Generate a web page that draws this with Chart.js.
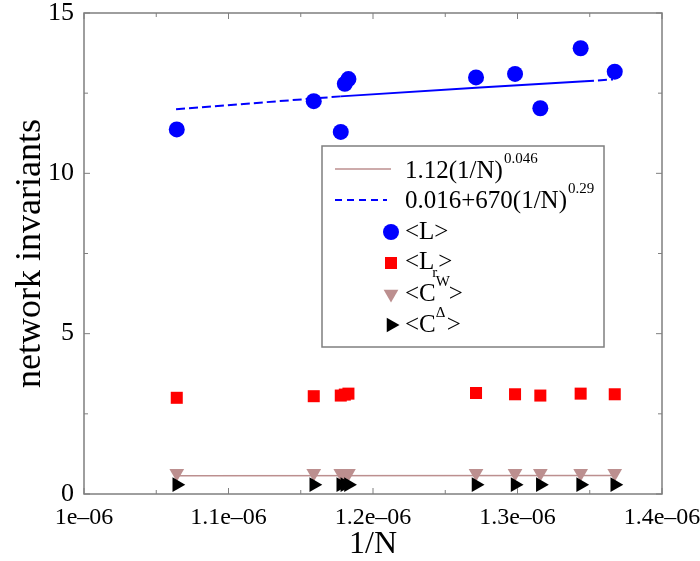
<!DOCTYPE html>
<html>
<head>
<meta charset="utf-8">
<script src="https://cdn.jsdelivr.net/npm/chart.js@4/dist/chart.umd.min.js"></script>
<style>
  html, body { margin: 0; padding: 0; background: #fff; }
  #wrap { width: 700px; height: 561px; }
</style>
</head>
<body>
<div id="wrap"><canvas id="grafica"></canvas></div>
<script>
// datos (x en unidades de 1/N)
const invN = [1.0642e-6, 1.1590e-6, 1.1777e-6, 1.1805e-6, 1.1830e-6, 1.2713e-6, 1.2983e-6, 1.3158e-6, 1.3437e-6, 1.3673e-6];
const valL = [11.37, 12.25, 11.29, 12.79, 12.94, 12.99, 13.10, 12.03, 13.90, 13.17];
const valLr = [3.00, 3.05, 3.07, 3.10, 3.13, 3.15, 3.11, 3.07, 3.13, 3.11];
const valCw = [0.65, 0.65, 0.65, 0.65, 0.65, 0.65, 0.65, 0.65, 0.65, 0.65];
const valCd = [0.29, 0.29, 0.29, 0.29, 0.29, 0.29, 0.29, 0.29, 0.29, 0.29];

// curvas de ajuste
const fitLx = [1.0637e-6, 1.1775e-6, 1.2740e-6, 1.3467e-6, 1.3661e-6];
const fitLy = [12.00, 12.40, 12.68, 12.87, 12.93];
const fitCx = [1.0630e-6, 1.3689e-6];
const fitCy = [0.57, 0.58];

// ejes
const xTicks = [1.0e-6, 1.05e-6, 1.1e-6, 1.15e-6, 1.2e-6, 1.25e-6, 1.3e-6, 1.35e-6, 1.4e-6];
const xTickLabels = ['1e\u201306', '', '1.1e\u201306', '', '1.2e\u201306', '', '1.3e\u201306', '', '1.4e\u201306'];
const yTicks = [0, 2.5, 5, 7.5, 10, 12.5, 15];
const yTickLabels = ['0', '', '5', '', '10', '', '15'];

const serif = 'Liberation Serif';
const grisEje = '#7f7f7f';

const pares = (xs, ys) => xs.map((x, i) => ({ x: x, y: ys[i] }));

// marcas de ejes hacia dentro y marco completo
const marcoPlugin = {
    id: 'marco',
    afterDatasetsDraw(chart) {
        const ctx = chart.ctx;
        const a = chart.chartArea;
        const sx = chart.scales.x, sy = chart.scales.y;
        ctx.save();
        ctx.strokeStyle = grisEje;
        ctx.lineWidth = 1.5;
        ctx.strokeRect(a.left, a.top, a.right - a.left, a.bottom - a.top);
        ctx.lineWidth = 1;
        ctx.beginPath();
        xTicks.forEach((v, i) => {
            const px = sx.getPixelForValue(v);
            const len = xTickLabels[i] ? 6 : 4;
            ctx.moveTo(px, a.bottom); ctx.lineTo(px, a.bottom - len);
            ctx.moveTo(px, a.top); ctx.lineTo(px, a.top + len);
        });
        yTicks.forEach((v, i) => {
            const py = sy.getPixelForValue(v);
            const len = yTickLabels[i] ? 6 : 4;
            ctx.moveTo(a.left, py); ctx.lineTo(a.left + len, py);
            ctx.moveTo(a.right, py); ctx.lineTo(a.right - len, py);
        });
        ctx.stroke();
        ctx.restore();
    }
};

// leyenda con superindices y subindices
const leyendaPlugin = {
    id: 'leyenda',
    afterDraw(chart) {
        const ctx = chart.ctx;
        const a = chart.chartArea;
        const L = a.left + 238, T = a.top + 133;
        ctx.save();
        ctx.fillStyle = '#fff';
        ctx.fillRect(L, T, 282, 201);
        ctx.strokeStyle = grisEje;
        ctx.lineWidth = 1.5;
        ctx.strokeRect(L, T, 282, 201);

        const tx = L + 83;
        const big = '25px "' + serif + '"';
        const small = '15px "' + serif + '"';
        ctx.fillStyle = '#000';
        ctx.textBaseline = 'alphabetic';
        ctx.textAlign = 'left';

        // fila 1: linea marron
        ctx.strokeStyle = '#bc8f8f'; ctx.lineWidth = 1.5;
        ctx.beginPath(); ctx.moveTo(L + 13, T + 23); ctx.lineTo(L + 69, T + 23); ctx.stroke();
        ctx.font = big; ctx.fillText('1.12(1/N)', tx, T + 32);
        let w = ctx.measureText('1.12(1/N)').width;
        ctx.font = small; ctx.fillText('0.046', tx + w + 1, T + 17);

        // fila 2: linea azul discontinua
        ctx.strokeStyle = '#0000ff'; ctx.lineWidth = 2; ctx.setLineDash([7, 5]);
        ctx.beginPath(); ctx.moveTo(L + 13, T + 54); ctx.lineTo(L + 65, T + 54); ctx.stroke();
        ctx.setLineDash([]);
        ctx.font = big; ctx.fillText('0.016+670(1/N)', tx, T + 62);
        w = ctx.measureText('0.016+670(1/N)').width;
        ctx.font = small; ctx.fillText('0.29', tx + w + 1, T + 47);

        const mx = L + 69;
        const pt = Chart.helpers.drawPoint;
        // fila 3
        ctx.fillStyle = '#0000ff'; ctx.strokeStyle = '#0000ff';
        pt(ctx, { pointStyle: 'circle', radius: 8, rotation: 0, borderWidth: 0 }, mx, T + 86);
        ctx.fillStyle = '#000'; ctx.font = big; ctx.fillText('<L>', tx, T + 93);
        // fila 4
        ctx.fillStyle = '#ff0000';
        pt(ctx, { pointStyle: 'rect', radius: 8.5, rotation: 0, borderWidth: 0 }, mx, T + 117);
        ctx.fillStyle = '#000'; ctx.font = big; ctx.fillText('<L', tx, T + 123);
        w = ctx.measureText('<L').width;
        ctx.font = small; ctx.fillText('r', tx + w - 2, T + 131);
        ctx.font = big; ctx.fillText('>', tx + w + 4, T + 123);
        // fila 5
        ctx.fillStyle = '#bc8f8f';
        pt(ctx, { pointStyle: 'triangle', radius: 8.5, rotation: 180, borderWidth: 0 }, mx, T + 148);
        ctx.fillStyle = '#000'; ctx.font = big; ctx.fillText('<C', tx, T + 155);
        w = ctx.measureText('<C').width;
        ctx.font = small; ctx.fillText('W', tx + w, T + 140);
        ctx.font = big; ctx.fillText('>', tx + w + 13, T + 155);
        // fila 6
        ctx.fillStyle = '#000';
        pt(ctx, { pointStyle: 'triangle', radius: 8.5, rotation: 90, borderWidth: 0 }, mx, T + 179);
        ctx.font = big; ctx.fillText('<C', tx, T + 186);
        w = ctx.measureText('<C').width;
        ctx.font = small; ctx.fillText('\u0394', tx + w, T + 171);
        ctx.font = big; ctx.fillText('>', tx + w + 11, T + 186);
        ctx.restore();
    }
};

const ctx = document.getElementById('grafica').getContext('2d');
new Chart(ctx, {
    type: 'scatter',
    data: {
        datasets: [
            {
                label: '1.12(1/N)^0.046',
                type: 'line',
                data: pares(fitCx, fitCy),
                borderColor: '#bc8f8f',
                borderWidth: 1.5,
                pointRadius: 0,
                fill: false,
                order: 5
            },
            {
                label: '0.016+670(1/N)^0.29',
                type: 'line',
                data: pares(fitLx, fitLy),
                borderColor: '#0000ff',
                borderWidth: 2,
                pointRadius: 0,
                fill: false,
                segment: {
                    borderDash: c => (c.p0.parsed.x >= 1.177e-6 && c.p1.parsed.x <= 1.3470e-6) ? [] : [9, 4]
                },
                order: 5
            },
            {
                label: '<L>',
                data: pares(invN, valL),
                pointStyle: 'circle',
                pointRadius: 8,
                backgroundColor: '#0000ff',
                borderWidth: 0,
                order: 1
            },
            {
                label: '<Lr>',
                data: pares(invN, valLr),
                pointStyle: 'rect',
                pointRadius: 8.5,
                backgroundColor: '#ff0000',
                borderWidth: 0,
                order: 1
            },
            {
                label: '<C^W>',
                data: pares(invN, valCw),
                pointStyle: 'triangle',
                rotation: 180,
                pointRadius: 8.5,
                backgroundColor: '#bc8f8f',
                borderWidth: 0,
                order: 2
            },
            {
                label: '<C^Δ>',
                data: pares(invN, valCd),
                pointStyle: 'triangle',
                rotation: 90,
                pointRadius: 8.5,
                backgroundColor: '#000000',
                borderWidth: 0,
                order: 1
            }
        ]
    },
    options: {
        responsive: true,
        maintainAspectRatio: false,
        animation: false,
        layout: { padding: { top: 13, right: 38, left: 0, bottom: 0 } },
        plugins: {
            legend: { display: false },
            tooltip: { enabled: false }
        },
        scales: {
            x: {
                type: 'linear',
                min: 1.0e-6,
                max: 1.4e-6,
                afterBuildTicks: s => { s.ticks = xTicks.map(v => ({ value: v })); },
                afterFit: s => { s.height = 67; s.paddingLeft = 0; s.paddingRight = 0; },
                grid: { display: false, drawTicks: false },
                border: { display: false },
                ticks: {
                    autoSkip: false,
                    maxRotation: 0,
                    padding: 9,
                    color: '#000',
                    font: { family: serif, size: 24 },
                    callback: (v, i) => xTickLabels[i]
                },
                title: {
                    display: true,
                    text: '1/N',
                    color: '#000',
                    font: { family: serif, size: 32, lineHeight: 1 },
                    padding: { top: 0, bottom: 0 }
                }
            },
            y: {
                min: 0,
                max: 15,
                afterBuildTicks: s => { s.ticks = yTicks.map(v => ({ value: v })); },
                afterFit: s => { s.width = 84; s.paddingTop = 0; s.paddingBottom = 0; },
                grid: { display: false, drawTicks: false },
                border: { display: false },
                ticks: {
                    padding: 10,
                    color: '#000',
                    font: { family: serif, size: 26 },
                    callback: (v, i) => yTickLabels[i]
                },
                title: {
                    display: true,
                    text: 'network invariants',
                    color: '#000',
                    font: { family: serif, size: 36, lineHeight: 1 },
                    padding: { top: 13, bottom: 0 }
                }
            }
        }
    },
    plugins: [marcoPlugin, leyendaPlugin]
});
</script>
</body>
</html>
